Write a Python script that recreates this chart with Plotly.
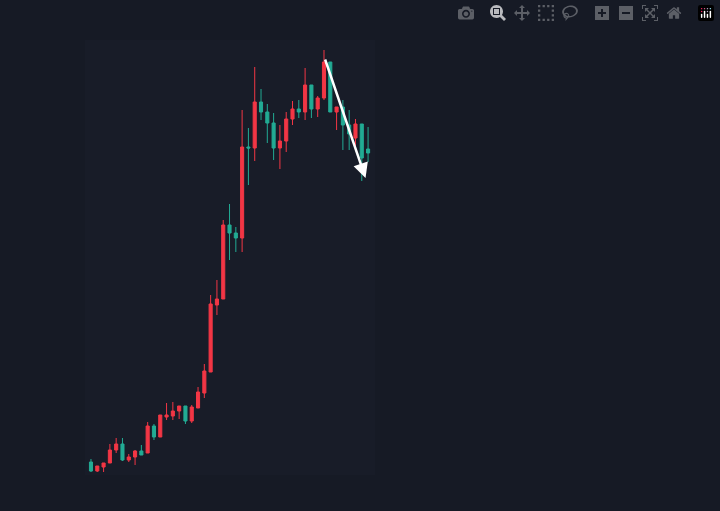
import plotly.graph_objects as go

# values (price units, higher = up)
opens = [38, 29, 33, 37, 50, 56, 40, 43, 49, 47, 74, 63, 83, 84, 89, 94, 79, 92, 107, 128,
         195, 201, 275, 267, 262, 353, 352, 398, 388, 377, 352, 359, 381, 391, 388, 415,
         391, 402, 438, 388, 393, 375, 362, 376, 351]
highs = [41, 34, 34, 56, 62, 62, 46, 50, 55, 78, 76, 85, 97, 98, 94, 94, 95, 113, 136, 205,
         220, 280, 296, 273, 390, 372, 433, 411, 396, 387, 375, 388, 399, 400, 432, 415,
         404, 450, 438, 388, 400, 390, 381, 376, 373]
lows = [28, 28, 28, 37, 47, 39, 38, 35, 45, 47, 60, 63, 80, 80, 81, 76, 77, 92, 102, 128,
        185, 201, 240, 248, 248, 315, 339, 380, 357, 340, 331, 348, 375, 382, 380, 382,
        383, 400, 388, 370, 350, 350, 350, 319, 338]
closes = [29, 34, 37, 50, 56, 40, 43, 49, 45, 74, 63, 85, 85, 89, 94, 79, 93, 108, 129, 196,
          201, 275, 267, 262, 353, 352, 398, 388, 377, 352, 359, 381, 391, 388, 415, 391,
          402, 438, 388, 393, 375, 366, 376, 342, 347]
xs = list(range(len(opens)))

fig = go.Figure(go.Candlestick(
    x=xs, open=opens, high=highs, low=lows, close=closes,
    increasing=dict(line=dict(color="#f23645", width=1), fillcolor="#f23645"),
    decreasing=dict(line=dict(color="#22ab94", width=1), fillcolor="#22ab94"),
    whiskerwidth=0,
))

fig.add_annotation(x=43.6, y=322, ax=37.1, ay=442, xref="x", yref="y", axref="x", ayref="y",
                   text="", showarrow=True, arrowhead=2, arrowsize=1.2, arrowwidth=2.5,
                   arrowcolor="white")

fig.update_layout(
    width=720, height=511,
    paper_bgcolor="#161a25", plot_bgcolor="#181c28",
    margin=dict(l=85, r=345, t=40, b=36),
    showlegend=False,
    xaxis=dict(range=[-0.95, 45.1], visible=False, rangeslider=dict(visible=False)),
    yaxis=dict(range=[25, 460], visible=False),
)

# drop the page's default white margin
fig.write_html("out.html", post_script="document.body.style.margin='0';"
               "document.body.style.background='#161a25';")
